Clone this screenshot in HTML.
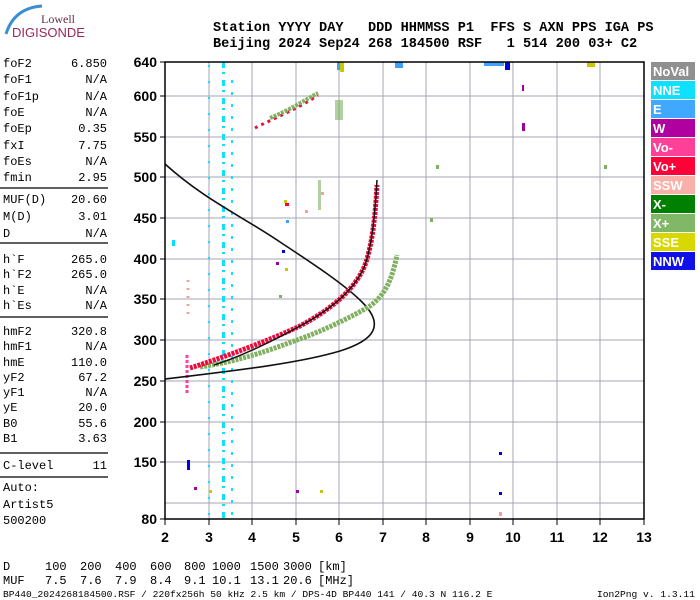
<!DOCTYPE html>
<html><head><meta charset="utf-8"><style>
body{margin:0;background:#fff;}
svg{display:block}
.m{font-family:"Liberation Mono",monospace;font-size:12px;fill:#000}
.h{font-family:"Liberation Mono",monospace;font-size:13.6px;font-weight:bold;fill:#000}
.t{font-family:"Liberation Sans",sans-serif;font-size:14px;font-weight:bold;fill:#000}
.l{font-family:"Liberation Sans",sans-serif;font-size:13px;font-weight:bold;fill:#fff}
</style></head><body>
<svg width="700" height="600" viewBox="0 0 700 600" xmlns="http://www.w3.org/2000/svg">
<rect width="700" height="600" fill="#fff"/>
<!-- logo -->
<path d="M6,34 Q14,8 42,6" stroke="#3a8fd0" stroke-width="3" fill="none"/>
<text x="41" y="23" font-family="Liberation Serif,serif" font-size="12" fill="#6a2a4a">Lowell</text>
<text x="12" y="37" font-family="Liberation Sans,sans-serif" font-size="13" fill="#9a2a5a">DIGISONDE</text>
<!-- header -->
<text class="h" x="213" y="31" xml:space="preserve">Station YYYY DAY   DDD HHMMSS P1  FFS S AXN PPS IGA PS</text>
<text class="h" x="213" y="47" xml:space="preserve">Beijing 2024 Sep24 268 184500 RSF   1 514 200 03+ C2</text>
<!-- grid -->
<g stroke="#a4a6b4" stroke-width="1">
<line x1="165" y1="62" x2="644" y2="62"/>
<line x1="165" y1="96" x2="644" y2="96"/><line x1="165" y1="137" x2="644" y2="137"/>
<line x1="165" y1="177" x2="644" y2="177"/><line x1="165" y1="218" x2="644" y2="218"/>
<line x1="165" y1="259" x2="644" y2="259"/><line x1="165" y1="299" x2="644" y2="299"/>
<line x1="165" y1="340" x2="644" y2="340"/><line x1="165" y1="381" x2="644" y2="381"/>
<line x1="165" y1="422" x2="644" y2="422"/><line x1="165" y1="462" x2="644" y2="462"/>
<line x1="165" y1="503" x2="644" y2="503"/>
<line x1="209" y1="62" x2="209" y2="519"/><line x1="252" y1="62" x2="252" y2="519"/>
<line x1="296" y1="62" x2="296" y2="519"/><line x1="339" y1="62" x2="339" y2="519"/>
<line x1="383" y1="62" x2="383" y2="519"/><line x1="426" y1="62" x2="426" y2="519"/>
<line x1="470" y1="62" x2="470" y2="519"/><line x1="513" y1="62" x2="513" y2="519"/>
<line x1="557" y1="62" x2="557" y2="519"/><line x1="600" y1="62" x2="600" y2="519"/>
</g>
<!-- scatter -->
<g>
<line x1="223.5" y1="62" x2="223.5" y2="519" stroke="#10e0ff" stroke-width="3" stroke-dasharray="6 4 2 6"/>
<line x1="232" y1="80" x2="232" y2="519" stroke="#10e0ff" stroke-width="2" stroke-dasharray="3 9"/>
<line x1="209" y1="65" x2="209" y2="515" stroke="#10e0ff" stroke-width="2" stroke-dasharray="2 14"/>
<line x1="187" y1="355" x2="187" y2="395" stroke="#ff40a0" stroke-width="3" stroke-dasharray="3 2"/>
<line x1="188" y1="280" x2="188" y2="320" stroke="#f0a0a0" stroke-width="3" stroke-dasharray="2 6"/>
<rect x="172" y="240" width="3" height="6" fill="#00e0ff"/>
<rect x="337" y="62" width="6" height="8" fill="#40a0ff"/><rect x="340" y="62" width="4" height="10" fill="#c8c800"/>
<rect x="395" y="62" width="8" height="6" fill="#40a0ff"/>
<rect x="484" y="62" width="20" height="4" fill="#40a0ff"/><rect x="505" y="62" width="5" height="8" fill="#0000e0"/>
<rect x="587" y="62" width="8" height="5" fill="#c8c800"/>
<rect x="522" y="85" width="2" height="6" fill="#a000a0"/><rect x="522" y="123" width="3" height="8" fill="#a000a0"/>
<rect x="499" y="452" width="3" height="3" fill="#0000e0"/><rect x="499" y="492" width="3" height="3" fill="#0000e0"/>
<rect x="499" y="512" width="3" height="4" fill="#f0a0a0"/>
<rect x="335" y="100" width="8" height="20" fill="#80b060" opacity="0.6"/>
<rect x="604" y="165" width="3" height="4" fill="#80b060"/><rect x="436" y="165" width="3" height="4" fill="#80b060"/>
<rect x="430" y="218" width="3" height="4" fill="#80b060"/>
<rect x="285" y="203" width="4" height="3" fill="#ff0030"/><rect x="284" y="200" width="3" height="3" fill="#c8c800"/>
<rect x="286" y="220" width="3" height="3" fill="#40a0ff"/><rect x="282" y="250" width="3" height="3" fill="#0000e0"/>
<rect x="276" y="262" width="3" height="3" fill="#a000a0"/><rect x="285" y="268" width="3" height="3" fill="#c8c800"/>
<rect x="279" y="295" width="3" height="3" fill="#80b060"/><rect x="318" y="180" width="3" height="30" fill="#80b060" opacity="0.6"/>
<rect x="321" y="192" width="3" height="3" fill="#f0a0a0"/><rect x="305" y="210" width="3" height="3" fill="#f0a0a0"/>
<rect x="209" y="490" width="3" height="3" fill="#c8c800"/><rect x="194" y="487" width="3" height="3" fill="#a000a0"/>
<rect x="296" y="490" width="3" height="3" fill="#a000a0"/><rect x="320" y="490" width="3" height="3" fill="#c8c800"/>
<rect x="187" y="460" width="3" height="10" fill="#0000e0"/>
</g>
<!-- profile curve -->
<path d="M165,164 C205,200 240,215 280,242 C315,265 345,285 362,302 C385,325 375,340 340,351 C300,363 240,370 165,379" stroke="#111" stroke-width="1.6" fill="none"/>
<!-- X trace -->
<path d="M200,367 C240,361 270,350 297,340 C320,332 350,318 370,306 C385,295 392,280 397,255" stroke="#80b060" stroke-width="5" fill="none" stroke-dasharray="3 1"/>
<!-- O trace -->
<path d="M190,368 C225,357 270,340 300,326 C330,310 355,290 365,265 C372,245 375,220 377,185" stroke="#ee0a3c" stroke-width="5" fill="none" stroke-dasharray="3 1"/>
<path d="M214,365 C240,357 275,340 300,326 C330,310 355,290 365,265 C372,245 375,215 377,180" stroke="#111" stroke-width="1.5" fill="none"/>
<path d="M255,128 C270,120 300,108 318,95" stroke="#ee0a3c" stroke-width="3" fill="none" stroke-dasharray="3 4"/>
<path d="M270,118 C290,110 305,100 318,93" stroke="#80b060" stroke-width="4" fill="none" stroke-dasharray="3 1"/>
<!-- frame -->
<rect x="165" y="62" width="479" height="457" fill="none" stroke="#000" stroke-width="1.5"/>
<!-- y ticks -->
<g stroke="#000" stroke-width="1">
<line x1="160" y1="62" x2="165" y2="62"/><line x1="160" y1="96" x2="165" y2="96"/><line x1="160" y1="137" x2="165" y2="137"/><line x1="160" y1="177" x2="165" y2="177"/><line x1="160" y1="218" x2="165" y2="218"/><line x1="160" y1="259" x2="165" y2="259"/><line x1="160" y1="299" x2="165" y2="299"/><line x1="160" y1="340" x2="165" y2="340"/><line x1="160" y1="381" x2="165" y2="381"/><line x1="160" y1="422" x2="165" y2="422"/><line x1="160" y1="462" x2="165" y2="462"/><line x1="160" y1="519" x2="165" y2="519"/>
<line x1="165" y1="519" x2="165" y2="525"/><line x1="209" y1="519" x2="209" y2="525"/><line x1="252" y1="519" x2="252" y2="525"/><line x1="296" y1="519" x2="296" y2="525"/><line x1="339" y1="519" x2="339" y2="525"/><line x1="383" y1="519" x2="383" y2="525"/><line x1="426" y1="519" x2="426" y2="525"/><line x1="470" y1="519" x2="470" y2="525"/><line x1="513" y1="519" x2="513" y2="525"/><line x1="557" y1="519" x2="557" y2="525"/><line x1="600" y1="519" x2="600" y2="525"/><line x1="644" y1="519" x2="644" y2="525"/>
</g>
<g class="t" text-anchor="end">
<text x="157" y="67">640</text><text x="157" y="101">600</text><text x="157" y="142">550</text><text x="157" y="182">500</text><text x="157" y="223">450</text><text x="157" y="264">400</text><text x="157" y="304">350</text><text x="157" y="345">300</text><text x="157" y="386">250</text><text x="157" y="427">200</text><text x="157" y="467">150</text><text x="157" y="524">80</text>
</g>
<g class="t" text-anchor="middle">
<text x="165" y="542">2</text><text x="209" y="542">3</text><text x="252" y="542">4</text><text x="296" y="542">5</text><text x="339" y="542">6</text><text x="383" y="542">7</text><text x="426" y="542">8</text><text x="470" y="542">9</text><text x="513" y="542">10</text><text x="557" y="542">11</text><text x="600" y="542">12</text><text x="644" y="542">13</text>
</g>
<!-- legend -->
<g>
<rect x="651" y="62" width="44" height="18" fill="#909090"/><text class="l" x="653" y="76">NoVal</text>
<rect x="651" y="81" width="44" height="18" fill="#10e0ff"/><text class="l" x="653" y="95">NNE</text>
<rect x="651" y="100" width="44" height="18" fill="#40a8ff"/><text class="l" x="653" y="114">E</text>
<rect x="651" y="119" width="44" height="18" fill="#b000a0"/><text class="l" x="653" y="133">W</text>
<rect x="651" y="138" width="44" height="18" fill="#ff4098"/><text class="l" x="653" y="152">Vo-</text>
<rect x="651" y="157" width="44" height="18" fill="#ff0038"/><text class="l" x="653" y="171">Vo+</text>
<rect x="651" y="176" width="44" height="18" fill="#f8b0a8"/><text class="l" x="653" y="190">SSW</text>
<rect x="651" y="195" width="44" height="18" fill="#008000"/><text class="l" x="653" y="209">X-</text>
<rect x="651" y="214" width="44" height="18" fill="#80b868"/><text class="l" x="653" y="228">X+</text>
<rect x="651" y="233" width="44" height="18" fill="#d8d800"/><text class="l" x="653" y="247">SSE</text>
<rect x="651" y="252" width="44" height="18" fill="#1010e8"/><text class="l" x="653" y="266">NNW</text>
</g>
<!-- left panel -->
<g class="m">
<text x="3" y="67">foF2</text><text x="3" y="83">foF1</text><text x="3" y="100">foF1p</text><text x="3" y="116">foE</text><text x="3" y="132">foEp</text><text x="3" y="149">fxI</text><text x="3" y="165">foEs</text><text x="3" y="181">fmin</text>
<text x="3" y="203">MUF(D)</text><text x="3" y="220">M(D)</text><text x="3" y="237">D</text>
<text x="3" y="263">h`F</text><text x="3" y="278">h`F2</text><text x="3" y="294">h`E</text><text x="3" y="309">h`Es</text>
<text x="3" y="335">hmF2</text><text x="3" y="350">hmF1</text><text x="3" y="366">hmE</text><text x="3" y="381">yF2</text><text x="3" y="396">yF1</text><text x="3" y="411">yE</text><text x="3" y="427">B0</text><text x="3" y="442">B1</text>
<text x="3" y="469">C-level</text>
<text x="3" y="491">Auto:</text><text x="3" y="508">Artist5</text><text x="3" y="524">500200</text>
</g>
<g class="m" text-anchor="end">
<text x="107" y="67">6.850</text><text x="107" y="83">N/A</text><text x="107" y="100">N/A</text><text x="107" y="116">N/A</text><text x="107" y="132">0.35</text><text x="107" y="149">7.75</text><text x="107" y="165">N/A</text><text x="107" y="181">2.95</text>
<text x="107" y="203">20.60</text><text x="107" y="220">3.01</text><text x="107" y="237">N/A</text>
<text x="107" y="263">265.0</text><text x="107" y="278">265.0</text><text x="107" y="294">N/A</text><text x="107" y="309">N/A</text>
<text x="107" y="335">320.8</text><text x="107" y="350">N/A</text><text x="107" y="366">110.0</text><text x="107" y="381">67.2</text><text x="107" y="396">N/A</text><text x="107" y="411">20.0</text><text x="107" y="427">55.6</text><text x="107" y="442">3.63</text>
<text x="107" y="469">11</text>
</g>
<g stroke="#000" stroke-width="1.2">
<line x1="0" y1="188" x2="108" y2="188"/><line x1="0" y1="243" x2="108" y2="243"/><line x1="0" y1="317" x2="108" y2="317"/><line x1="0" y1="453" x2="108" y2="453"/><line x1="0" y1="477" x2="108" y2="477"/>
</g>
<!-- bottom -->
<g class="m" font-size="11.5">
<text x="3" y="570">D</text><text x="45" y="570">100</text><text x="80" y="570">200</text><text x="115" y="570">400</text><text x="150" y="570">600</text><text x="184" y="570">800</text><text x="212" y="570">1000</text><text x="250" y="570">1500</text><text x="283" y="570">3000</text><text x="318" y="570">[km]</text>
<text x="3" y="584">MUF</text><text x="45" y="584">7.5</text><text x="80" y="584">7.6</text><text x="115" y="584">7.9</text><text x="150" y="584">8.4</text><text x="184" y="584">9.1</text><text x="212" y="584">10.1</text><text x="250" y="584">13.1</text><text x="283" y="584">20.6</text><text x="318" y="584">[MHz]</text>
</g>
<text x="3" y="597" font-family="Liberation Mono,monospace" font-size="9.6" xml:space="preserve">BP440_2024268184500.RSF / 220fx256h 50 kHz 2.5 km / DPS-4D BP440 141 / 40.3 N 116.2 E</text>
<text x="597" y="597" font-family="Liberation Mono,monospace" font-size="9.6">Ion2Png v. 1.3.11</text>
</svg>
</body></html>
